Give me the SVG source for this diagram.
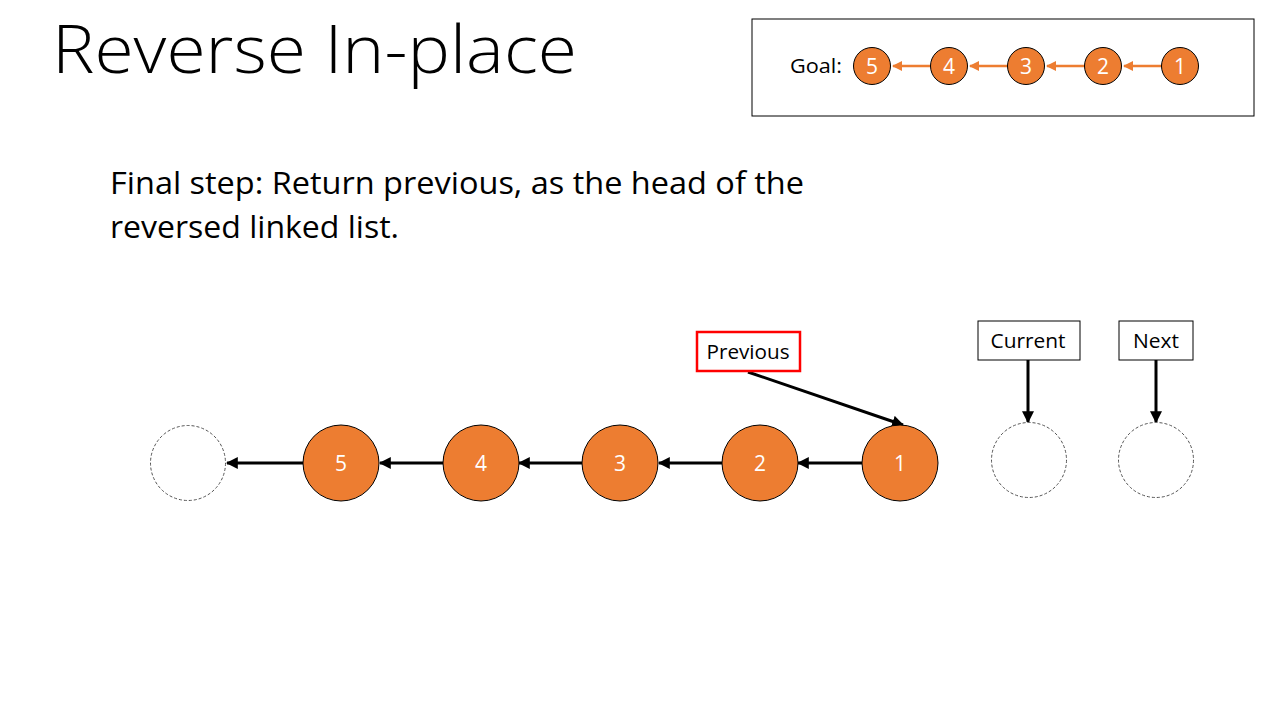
<svg xmlns="http://www.w3.org/2000/svg" width="1280" height="720" viewBox="0 0 1280 720">
<style>
.t{font-family:"Open Sans","Liberation Sans",sans-serif}
.node{fill:#ED7D31;stroke:#000;stroke-width:1}
.null{fill:#fff;stroke:#555;stroke-width:1;stroke-dasharray:3 2}
.lbl{font-family:"Open Sans","Liberation Sans",sans-serif;font-size:21px;fill:#fff;text-anchor:middle}
.blbl{font-family:"Open Sans","Liberation Sans",sans-serif;font-size:20px;fill:#000;text-anchor:middle}
.box{fill:#fff;stroke:#000;stroke-width:1}
.conn{stroke:#000;stroke-width:3;fill:none}
.oconn{stroke:#ED7D31;stroke-width:2.5;fill:none}
</style>
<defs>
<marker id="ah" viewBox="0 0 10 10" refX="9" refY="5" markerWidth="4" markerHeight="4" orient="auto" markerUnits="strokeWidth"><path d="M0,0 L10,5 L0,10 z" fill="#000"/></marker>
<marker id="oah" viewBox="0 0 10 10" refX="9" refY="5" markerWidth="4" markerHeight="4" orient="auto" markerUnits="strokeWidth"><path d="M0,0 L10,5 L0,10 z" fill="#ED7D31"/></marker>
</defs>
<rect width="1280" height="720" fill="#fff"/>
<text class="t" x="52" y="73" font-size="66" font-weight="300" textLength="525" lengthAdjust="spacingAndGlyphs">Reverse In-place</text>
<text class="t" x="110" y="194" font-size="31" textLength="694" lengthAdjust="spacingAndGlyphs">Final step: Return previous, as the head of the</text>
<text class="t" x="110" y="238" font-size="31" textLength="289" lengthAdjust="spacingAndGlyphs">reversed linked list.</text>

<g id="goal">
<rect x="752" y="19" width="502" height="97" class="box"/>
<text class="t" x="790" y="73" font-size="20" textLength="52" lengthAdjust="spacingAndGlyphs">Goal:</text>
</g>
<g id="goal-connectors">
<line x1="931" y1="66" x2="893" y2="66" class="oconn" marker-end="url(#oah)"/>
<line x1="1008" y1="66" x2="970" y2="66" class="oconn" marker-end="url(#oah)"/>
<line x1="1085" y1="66" x2="1047" y2="66" class="oconn" marker-end="url(#oah)"/>
<line x1="1162" y1="66" x2="1124" y2="66" class="oconn" marker-end="url(#oah)"/>
</g>
<g id="g5"><circle cx="872" cy="66" r="18.5" class="node"/><text x="872" y="73.5" class="lbl">5</text></g>
<g id="g4"><circle cx="949" cy="66" r="18.5" class="node"/><text x="949" y="73.5" class="lbl">4</text></g>
<g id="g3"><circle cx="1026" cy="66" r="18.5" class="node"/><text x="1026" y="73.5" class="lbl">3</text></g>
<g id="g2"><circle cx="1103" cy="66" r="18.5" class="node"/><text x="1103" y="73.5" class="lbl">2</text></g>
<g id="g1"><circle cx="1180" cy="66" r="18.5" class="node"/><text x="1180" y="73.5" class="lbl">1</text></g>

<g id="connectors">
<line x1="303" y1="463" x2="227" y2="463" class="conn" marker-end="url(#ah)"/>
<line x1="443" y1="463" x2="380" y2="463" class="conn" marker-end="url(#ah)"/>
<line x1="582" y1="463" x2="519" y2="463" class="conn" marker-end="url(#ah)"/>
<line x1="722" y1="463" x2="659" y2="463" class="conn" marker-end="url(#ah)"/>
<line x1="862" y1="463" x2="798" y2="463" class="conn" marker-end="url(#ah)"/>
<line x1="748" y1="372" x2="903" y2="425" class="conn" marker-end="url(#ah)"/>
<line x1="1028" y1="360" x2="1028" y2="422" class="conn" marker-end="url(#ah)"/>
<line x1="1156" y1="360" x2="1156" y2="422" class="conn" marker-end="url(#ah)"/>
</g>

<g id="null-left"><circle cx="188" cy="463" r="37.5" class="null"/></g>
<g id="n5"><circle cx="341" cy="463" r="38" class="node"/><text x="341" y="470.5" class="lbl">5</text></g>
<g id="n4"><circle cx="481" cy="463" r="38" class="node"/><text x="481" y="470.5" class="lbl">4</text></g>
<g id="n3"><circle cx="620" cy="463" r="38" class="node"/><text x="620" y="470.5" class="lbl">3</text></g>
<g id="n2"><circle cx="760" cy="463" r="38" class="node"/><text x="760" y="470.5" class="lbl">2</text></g>
<g id="n1"><circle cx="900" cy="463" r="38" class="node"/><text x="900" y="470.5" class="lbl">1</text></g>
<g id="null-current"><circle cx="1029" cy="460" r="37.5" class="null"/></g>
<g id="null-next"><circle cx="1156" cy="460" r="37.5" class="null"/></g>

<g id="previous"><rect x="697" y="332" width="103" height="39" fill="#fff" stroke="#FF0000" stroke-width="2.5"/><text x="748" y="358.5" class="blbl" textLength="83" lengthAdjust="spacingAndGlyphs">Previous</text></g>
<g id="current"><rect x="978" y="321" width="102" height="39" class="box"/><text x="1028" y="347.5" class="blbl" textLength="75" lengthAdjust="spacingAndGlyphs">Current</text></g>
<g id="next"><rect x="1119" y="321" width="74" height="39" class="box"/><text x="1156" y="347.5" class="blbl" textLength="46" lengthAdjust="spacingAndGlyphs">Next</text></g>
</svg>
